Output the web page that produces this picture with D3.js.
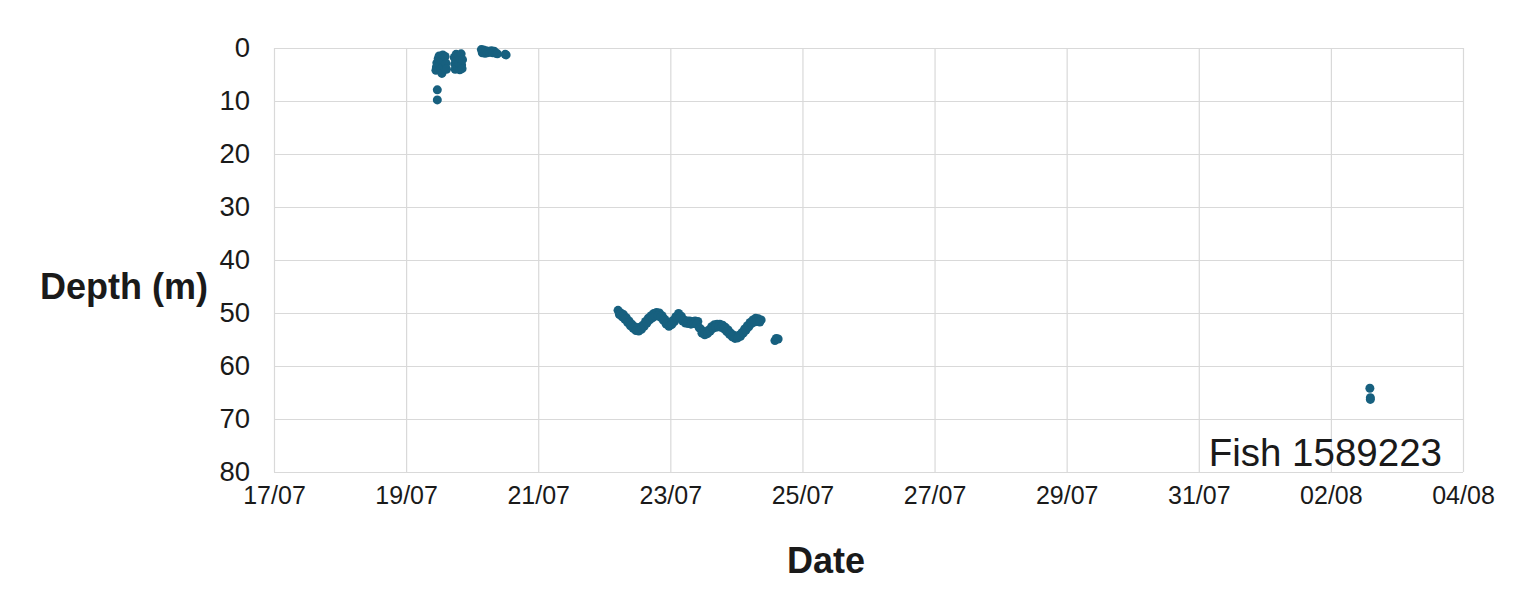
<!DOCTYPE html>
<html>
<head>
<meta charset="utf-8">
<script src="https://cdn.jsdelivr.net/npm/d3@7"></script>
<style>
  body { margin: 0; background: #fff; }
  text { font-family: "Liberation Sans", Arial, sans-serif; fill: #1a1a1a; }
</style>
</head>
<body>
<svg id="chart" width="1526" height="590"></svg>
<script>
// depth readings: [date time, depth in m]
var dives19 = [
    ["2018-07-19T10:50", 4.2], ["2018-07-19T11:00", 3.6], ["2018-07-19T11:10", 2.8],
    ["2018-07-19T11:20", 7.9], ["2018-07-19T11:20", 9.8], ["2018-07-19T11:40", 2.0],
    ["2018-07-19T12:00", 1.5], ["2018-07-19T12:10", 3.2], ["2018-07-19T12:30", 4.1],
    ["2018-07-19T12:50", 2.4], ["2018-07-19T13:00", 4.8], ["2018-07-19T13:20", 1.3],
    ["2018-07-19T13:30", 3.4], ["2018-07-19T13:50", 2.6], ["2018-07-19T14:10", 1.6],
    ["2018-07-19T14:10", 3.8], ["2018-07-19T14:30", 2.9], ["2018-07-19T14:40", 4.0],
    ["2018-07-19T17:30", 1.8], ["2018-07-19T17:40", 3.0], ["2018-07-19T17:50", 4.0],
    ["2018-07-19T18:10", 1.2], ["2018-07-19T18:20", 2.4], ["2018-07-19T18:40", 3.5],
    ["2018-07-19T19:00", 1.4], ["2018-07-19T19:10", 2.9], ["2018-07-19T19:30", 4.1],
    ["2018-07-19T19:40", 2.0], ["2018-07-19T20:00", 1.1], ["2018-07-19T20:10", 3.2],
    ["2018-07-19T20:20", 3.9], ["2018-07-19T20:30", 2.2]
];

var dives20 = [
    ["2018-07-20T03:20", 0.3], ["2018-07-20T03:40", 0.9], ["2018-07-20T04:10", 0.4],
    ["2018-07-20T04:40", 1.0], ["2018-07-20T05:00", 0.5], ["2018-07-20T05:30", 0.9],
    ["2018-07-20T06:00", 0.6], ["2018-07-20T06:30", 0.8], ["2018-07-20T07:00", 0.5],
    ["2018-07-20T07:30", 0.9], ["2018-07-20T08:00", 0.6], ["2018-07-20T08:40", 1.0],
    ["2018-07-20T09:10", 1.1], ["2018-07-20T12:00", 1.2], ["2018-07-20T12:20", 1.3]
];

var dives22 = [
    ["2018-07-22T05:00", 49.5], ["2018-07-22T06:00", 50.0], ["2018-07-22T07:00", 50.3],
    ["2018-07-22T08:00", 50.9], ["2018-07-22T09:00", 51.5], ["2018-07-22T10:00", 52.1],
    ["2018-07-22T11:00", 52.6], ["2018-07-22T12:00", 52.8], ["2018-07-22T13:00", 52.7],
    ["2018-07-22T14:00", 52.3], ["2018-07-22T15:00", 51.6], ["2018-07-22T16:00", 51.0],
    ["2018-07-22T17:00", 50.5], ["2018-07-22T18:00", 50.1], ["2018-07-22T19:00", 49.9],
    ["2018-07-22T20:00", 50.0], ["2018-07-22T21:00", 50.5], ["2018-07-22T22:00", 51.2],
    ["2018-07-22T23:00", 51.8], ["2018-07-23T00:00", 51.9], ["2018-07-23T01:00", 51.4],
    ["2018-07-23T02:00", 50.7], ["2018-07-23T03:00", 50.1], ["2018-07-23T04:00", 50.6],
    ["2018-07-23T05:00", 51.3], ["2018-07-23T06:00", 51.5], ["2018-07-23T07:00", 51.5],
    ["2018-07-23T08:00", 51.6], ["2018-07-23T09:00", 51.5], ["2018-07-23T10:00", 51.6],
    ["2018-07-23T11:00", 53.0], ["2018-07-23T12:00", 53.5], ["2018-07-23T13:00", 53.6],
    ["2018-07-23T14:00", 53.2], ["2018-07-23T15:00", 52.6], ["2018-07-23T16:00", 52.2],
    ["2018-07-23T17:00", 52.1], ["2018-07-23T18:00", 52.1], ["2018-07-23T19:00", 52.3],
    ["2018-07-23T20:00", 52.7], ["2018-07-23T21:00", 53.2], ["2018-07-23T22:00", 53.8],
    ["2018-07-23T23:00", 54.2], ["2018-07-24T00:00", 54.4], ["2018-07-24T01:00", 54.2],
    ["2018-07-24T02:00", 53.7], ["2018-07-24T03:00", 53.0], ["2018-07-24T04:00", 52.4],
    ["2018-07-24T05:00", 51.8], ["2018-07-24T06:00", 51.3], ["2018-07-24T07:00", 51.0],
    ["2018-07-24T08:00", 51.1], ["2018-07-24T09:00", 51.3],
    ["2018-07-24T14:00", 55.2], ["2018-07-24T14:30", 54.8], ["2018-07-24T15:10", 54.9]
];

// half-hour readings of the same dive, slightly deeper
var dives22b = [
    ["2018-07-22T05:30", 50.3], ["2018-07-22T06:30", 50.7], ["2018-07-22T07:30", 51.2],
    ["2018-07-22T08:30", 51.8], ["2018-07-22T09:30", 52.4], ["2018-07-22T10:30", 52.9],
    ["2018-07-22T11:30", 53.3], ["2018-07-22T12:30", 53.4], ["2018-07-22T13:30", 53.1],
    ["2018-07-22T14:30", 52.5], ["2018-07-22T15:30", 51.9], ["2018-07-22T16:30", 51.3],
    ["2018-07-22T17:30", 50.9], ["2018-07-22T18:30", 50.6], ["2018-07-22T19:30", 50.5],
    ["2018-07-22T20:30", 50.8], ["2018-07-22T21:30", 51.4], ["2018-07-22T22:30", 52.1],
    ["2018-07-22T23:30", 52.5], ["2018-07-23T00:30", 52.2], ["2018-07-23T01:30", 51.6],
    ["2018-07-23T02:30", 50.9], ["2018-07-23T03:30", 50.9], ["2018-07-23T04:30", 51.5],
    ["2018-07-23T05:30", 51.9], ["2018-07-23T06:30", 52.0], ["2018-07-23T07:30", 52.1],
    ["2018-07-23T08:30", 52.0], ["2018-07-23T09:30", 52.1], ["2018-07-23T10:30", 52.8],
    ["2018-07-23T11:30", 53.8], ["2018-07-23T12:30", 54.1], ["2018-07-23T13:30", 53.9],
    ["2018-07-23T14:30", 53.4], ["2018-07-23T15:30", 52.9], ["2018-07-23T16:30", 52.7],
    ["2018-07-23T17:30", 52.6], ["2018-07-23T18:30", 52.7], ["2018-07-23T19:30", 53.0],
    ["2018-07-23T20:30", 53.5], ["2018-07-23T21:30", 54.0], ["2018-07-23T22:30", 54.5],
    ["2018-07-23T23:30", 54.8], ["2018-07-24T00:30", 54.7], ["2018-07-24T01:30", 54.4],
    ["2018-07-24T02:30", 53.8], ["2018-07-24T03:30", 53.2], ["2018-07-24T04:30", 52.6],
    ["2018-07-24T05:30", 52.0], ["2018-07-24T06:30", 51.7], ["2018-07-24T07:30", 51.6],
    ["2018-07-24T08:30", 51.7]
];

var dives02 = [
    ["2018-08-02T14:10", 64.2], ["2018-08-02T14:20", 66.0], ["2018-08-02T14:20", 66.3]
];

var dateTicks = ["2018-07-17", "2018-07-19", "2018-07-21", "2018-07-23", "2018-07-25",
                 "2018-07-27", "2018-07-29", "2018-07-31", "2018-08-02", "2018-08-04"];
var depthTicks = [0, 10, 20, 30, 40, 50, 60, 70, 80];
var fishLabel = "Fish 1589223";

var parseTime = d3.timeParse("%Y-%m-%dT%H:%M");
var parseDay = d3.timeParse("%Y-%m-%d");

var data = dives19.concat(dives20, dives22, dives22b, dives02).map(function(d) {
    return { date: parseTime(d[0]), depth: d[1] };
});
var tickDates = dateTicks.map(parseDay);

var marginLeft = 274, marginTop = 48;
var width = 1189, height = 424;

var x = d3.scaleTime()
    .domain([tickDates[0], tickDates[tickDates.length - 1]])
    .range([0, width]);
var y = d3.scaleLinear()
    .domain([0, 80])
    .range([0, height]);

var svg = d3.select('#chart');
var g = svg.append('g').attr('transform', 'translate(' + marginLeft + ',' + marginTop + ')');

// gridlines
g.append('g').selectAll('line').data(depthTicks).enter().append('line')
    .attr('x1', 0).attr('x2', width)
    .attr('y1', function(d) { return y(d) + 0.5; })
    .attr('y2', function(d) { return y(d) + 0.5; })
    .attr('stroke', '#d9d9d9').attr('stroke-width', 1.2);
g.append('g').selectAll('line').data(tickDates).enter().append('line')
    .attr('y1', 0).attr('y2', height)
    .attr('x1', function(d) { return x(d) + 0.5; })
    .attr('x2', function(d) { return x(d) + 0.5; })
    .attr('stroke', '#d9d9d9').attr('stroke-width', 1.2);

// axes (labels only, lines come from the grid)
var yAxis = d3.axisLeft(y).tickValues(depthTicks).tickSize(0).tickPadding(24);
var xAxis = d3.axisBottom(x).tickValues(tickDates).tickSize(0).tickPadding(14)
    .tickFormat(d3.timeFormat('%d/%m'));

var yg = g.append('g').call(yAxis);
yg.select('.domain').remove();
yg.attr('font-family', null);
yg.selectAll('text').style('font-size', '27.5px').attr('fill', '#1a1a1a');

var xg = g.append('g').attr('transform', 'translate(0,' + height + ')').call(xAxis);
xg.select('.domain').remove();
xg.attr('font-family', null);
xg.selectAll('text').style('font-size', '25px').attr('fill', '#1a1a1a');

// points
g.append('g').selectAll('circle').data(data).enter().append('circle')
    .attr('cx', function(d) { return x(d.date); })
    .attr('cy', function(d) { return y(d.depth); })
    .attr('r', 4.5)
    .attr('fill', '#17607f');

// titles
svg.append('text')
    .attr('x', 40).attr('y', 299)
    .style('font-size', '36px').style('font-weight', 'bold')
    .text('Depth (m)');
svg.append('text')
    .attr('x', 826).attr('y', 573)
    .attr('text-anchor', 'middle')
    .style('font-size', '36px').style('font-weight', 'bold')
    .text('Date');
g.append('text')
    .attr('x', width - 21).attr('y', height - 6)
    .attr('text-anchor', 'end')
    .style('font-size', '38.5px')
    .text(fishLabel);
</script>
</body>
</html>
